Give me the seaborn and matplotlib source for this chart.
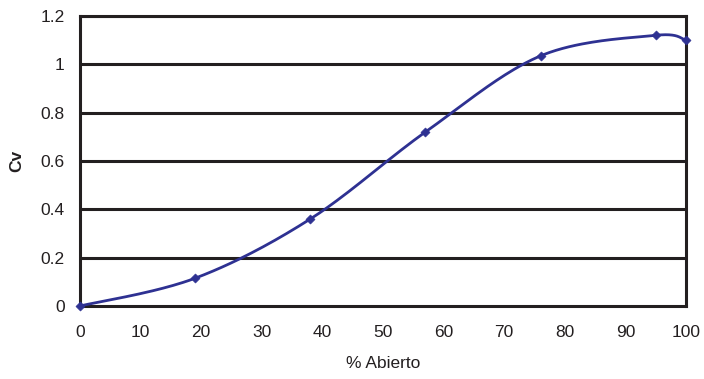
import numpy as np
import pandas as pd
import matplotlib
matplotlib.use("Agg")
import matplotlib.pyplot as plt
import seaborn as sns

# datos
abierto = [0, 19, 38, 57, 76, 95, 100]
cv = [0.0, 0.115, 0.36, 0.72, 1.035, 1.12, 1.10]

sns.set_style("white")
plt.rcParams['font.family'] = ['Liberation Sans', 'DejaVu Sans']

fig = plt.figure(figsize=(7.04, 3.79), dpi=100)
ax = fig.add_axes([80 / 704, 73 / 379, 606 / 704, 290 / 379])

# curva suavizada tipo Excel (bezier con tension 1/6, en coordenadas de pantalla)
sx, sy = 606 / 100, 290 / 1.2
px = np.array(abierto) * sx
py = np.array(cv) * sy
pts = np.column_stack([px, py])
n = len(pts)
cx, cy = [], []
t = np.linspace(0, 1, 40)
for i in range(n - 1):
    p0 = pts[max(i - 1, 0)]
    p1 = pts[i]
    p2 = pts[i + 1]
    p3 = pts[min(i + 2, n - 1)]
    c1 = p1 + (p2 - p0) / 6
    c2 = p2 - (p3 - p1) / 6
    b = ((1 - t) ** 3)[:, None] * p1 + (3 * (1 - t) ** 2 * t)[:, None] * c1 \
        + (3 * (1 - t) * t ** 2)[:, None] * c2 + (t ** 3)[:, None] * p2
    cx.extend(b[:, 0] / sx)
    cy.extend(b[:, 1] / sy)
curva = pd.DataFrame({"x": cx, "y": cy})

color = "#2E3192"
negro = "#231F20"
for yv in [0.2, 0.4, 0.6, 0.8, 1.0, 1.2]:
    ax.axhline(yv, color=negro, lw=2.2, zorder=1)

sns.lineplot(data=curva, x="x", y="y", sort=False, color=color, lw=2.0, ax=ax, zorder=3)
sns.scatterplot(x=abierto, y=cv, marker="D", s=22, color=color, edgecolor=color, ax=ax, zorder=4, clip_on=False)

ax.set_xlim(0, 100)
ax.set_ylim(0, 1.2)
ax.set_xticks(range(0, 101, 10))
ax.set_yticks([0, 0.2, 0.4, 0.6, 0.8, 1.0, 1.2])
ax.set_yticklabels(["0", "0.2", "0.4", "0.6", "0.8", "1", "1.2"])
for s in ax.spines.values():
    s.set_color(negro)
    s.set_linewidth(2.2)
ax.tick_params(axis="both", direction="out", length=5, width=2.0, color=negro,
               labelsize=12.5, labelcolor=negro)
ax.tick_params(axis="x", pad=9)
ax.tick_params(axis="y", pad=6)
ax.set_xlabel("% Abierto", fontsize=12.5, color=negro, labelpad=11)
ax.set_ylabel("Cv", fontsize=12.5, fontweight="bold", color=negro, labelpad=12)

fig.savefig("out.png", dpi=100)
